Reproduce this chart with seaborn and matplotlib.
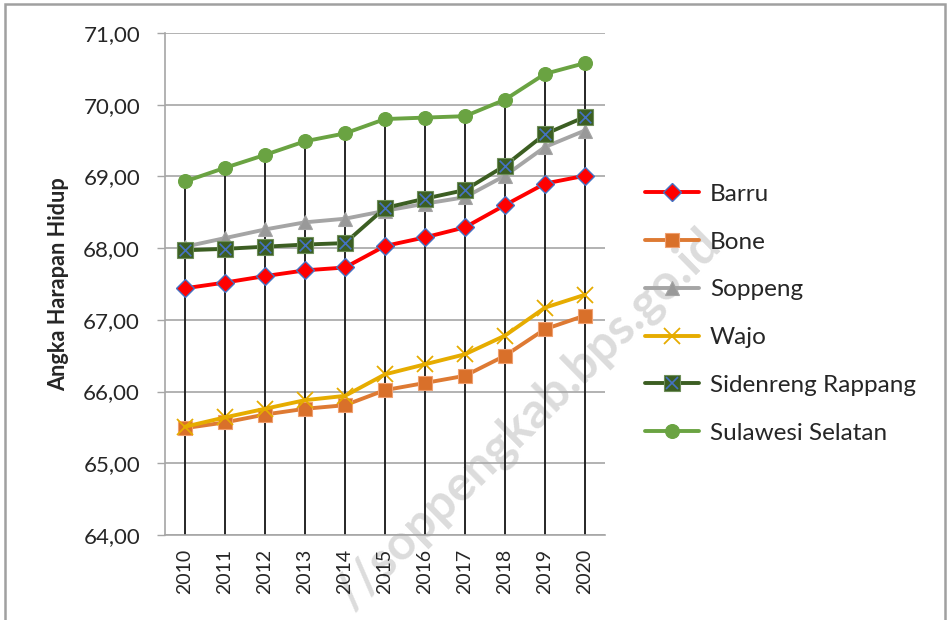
import pandas as pd
import matplotlib.pyplot as plt
import seaborn as sns
from matplotlib.patches import Rectangle
from matplotlib.ticker import FuncFormatter
from matplotlib.legend_handler import HandlerTuple

# Angka Harapan Hidup 2010-2020
years = [2010, 2011, 2012, 2013, 2014, 2015, 2016, 2017, 2018, 2019, 2020]
barru = [67.44, 67.52, 67.61, 67.69, 67.73, 68.03, 68.15, 68.29, 68.60, 68.90, 69.01]
bone = [65.49, 65.57, 65.68, 65.76, 65.81, 66.02, 66.12, 66.22, 66.50, 66.87, 67.06]
soppeng = [68.02, 68.14, 68.26, 68.36, 68.41, 68.52, 68.62, 68.71, 69.01, 69.41, 69.64]
wajo = [65.51, 65.64, 65.76, 65.88, 65.94, 66.24, 66.38, 66.52, 66.78, 67.17, 67.35]
sidrap = [67.97, 67.99, 68.02, 68.05, 68.07, 68.56, 68.69, 68.81, 69.15, 69.59, 69.83]
sulsel = [68.93, 69.12, 69.30, 69.49, 69.60, 69.80, 69.82, 69.84, 70.07, 70.43, 70.58]

df = pd.DataFrame({'Tahun': years, 'Barru': barru, 'Bone': bone, 'Soppeng': soppeng,
                   'Wajo': wajo, 'Sidenreng Rappang': sidrap, 'Sulawesi Selatan': sulsel})

styles = {
    'Barru': dict(color='#FF0000', marker='D', markersize=9, markerfacecolor='#FF0000',
                  markeredgecolor='#4472C4', markeredgewidth=1.0),
    'Bone': dict(color='#DE7A33', marker='s', markersize=10.5, markerfacecolor='#D9702A',
                 markeredgecolor='#F0A070', markeredgewidth=0.8),
    'Soppeng': dict(color='#A5A5A5', marker='^', markersize=10, markerfacecolor='#999999',
                    markeredgecolor='#A5A5A5', markeredgewidth=0.8),
    'Wajo': dict(color='#E6AC00', marker='x', markersize=11, markeredgecolor='#E6AC00',
                 markeredgewidth=1.3),
    'Sidenreng Rappang': dict(color='#3C5E22', marker='s', markersize=11, markerfacecolor='#3C5E22',
                              markeredgecolor='#6E8F5A', markeredgewidth=0.8),
    'Sulawesi Selatan': dict(color='#6AA342', marker='o', markersize=10, markerfacecolor='#6AA342',
                             markeredgecolor='#6AA342', markeredgewidth=0.8),
}

sns.set_theme(style='white')
plt.rcParams['font.family'] = ['Lato', 'DejaVu Sans']

fig = plt.figure(figsize=(9.5, 6.2), dpi=100)
ax = fig.add_axes([0.1737, 0.1371, 0.4631, 0.8097])
ax.patch.set_alpha(0)

# drop lines from the highest series down to the axis
top_vals = df.drop(columns='Tahun').max(axis=1)
ax.vlines(df['Tahun'], 64, top_vals, color='#262626', lw=1.4, zorder=1.5)

handles = []
for name, st in styles.items():
    sns.lineplot(data=df, x='Tahun', y=name, ax=ax, lw=2.8, label=name, zorder=3, **st)
    handles.append(ax.lines[-1])

# blue cross inside the Sidenreng Rappang squares
sns.scatterplot(data=df, x='Tahun', y='Sidenreng Rappang', ax=ax, marker='x', s=70,
                color='#4472C4', linewidth=1.2, zorder=4, legend=False)
cross = plt.Line2D([], [], ls='none', marker='x', markersize=8, markeredgecolor='#4472C4',
                   markeredgewidth=1.2)
handles[4] = (handles[4], cross)

ax.set_ylim(64, 71)
ax.set_xlim(2009.5, 2020.5)
ax.set_xticks(years)
ax.set_xticklabels([str(y) for y in years], rotation=90, fontsize=14)
ax.set_yticks(range(64, 72))
ax.yaxis.set_major_formatter(FuncFormatter(lambda v, p: f'{v:.2f}'.replace('.', ',')))
ax.tick_params(axis='y', labelsize=16, length=6, width=1, color='#A6A6A6', left=True, pad=12)
ax.tick_params(axis='x', length=0, pad=10)
ax.grid(axis='y', color='#A6A6A6', lw=1.2)
ax.set_axisbelow(True)
for s in ['top', 'right']:
    ax.spines[s].set_visible(False)
for s in ['left', 'bottom']:
    ax.spines[s].set_color('#A6A6A6')
    ax.spines[s].set_linewidth(1.2)
ax.set_xlabel('')
ax.set_ylabel('Angka Harapan Hidup', fontsize=15.6, fontweight='bold', labelpad=10)
ax.get_legend().remove()

fig.legend(handles, list(styles.keys()), loc='center left', bbox_to_anchor=(0.679, 0.494),
           frameon=False, fontsize=17.5, handlelength=2.22, labelspacing=1.1, borderpad=0,
           borderaxespad=0, handletextpad=0.45,
           handler_map={tuple: HandlerTuple(ndivide=1, pad=0)})

# watermark, behind the chart
fig.text(723 / 950, 1 - 247 / 620, '//soppengkab.bps.go.id', rotation=44.5,
         rotation_mode='anchor', ha='right', va='baseline', fontsize=35.5, fontweight='bold',
         color='#DCDCDC', zorder=-1)

# outer chart border
fig.add_artist(Rectangle((5 / 950, -0.05), 940 / 950, 1.05 - 4 / 620, transform=fig.transFigure,
                         fill=False, edgecolor='#A0A0A0', lw=1.8))

plt.savefig('out.png', dpi=100)
